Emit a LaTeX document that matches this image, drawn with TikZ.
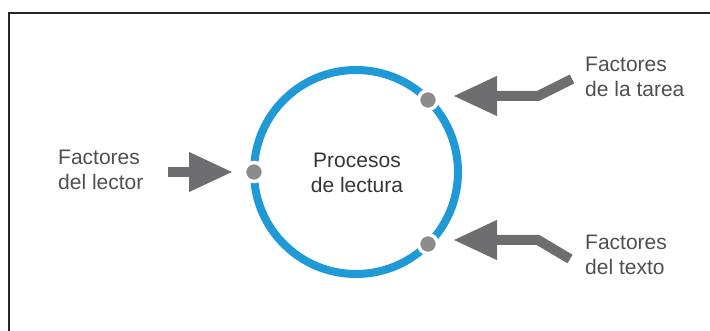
\documentclass[tikz,border=0pt]{standalone}
\usepackage{fontspec}
\setmainfont{Liberation Sans}
\usetikzlibrary{arrows.meta}
\definecolor{ringblue}{HTML}{1F9AD6}
\definecolor{arrowgray}{HTML}{6E6E70}
\definecolor{dotgray}{HTML}{8C8C8C}
\definecolor{labelgray}{HTML}{4F4F4F}
\definecolor{maingray}{HTML}{353535}
\tikzset{
  label text/.style={font=\fontsize{21}{25}\selectfont, text=labelgray, align=left, inner sep=0pt, anchor=north west},
  center text/.style={font=\fontsize{21}{25}\selectfont, text=maingray, align=center, inner sep=0pt, anchor=north},
  ring/.style={draw=ringblue, line width=8pt},
  portdot/.style={circle, fill=dotgray, draw=white, line width=3.5pt, minimum size=19pt, inner sep=0pt},
  bigarrow/.style={draw=arrowgray, line width=10pt, line join=miter,
    -{Triangle[length=44pt, width=37pt, fill=arrowgray]}},
  frameline/.style={draw=black!85, line width=2pt}
}
\begin{document}
\begin{tikzpicture}[x=1pt,y=-1pt]
\useasboundingbox (0,0) rectangle (710,331);
% frame (partially cut off on right and bottom)
\draw[frameline] (9,340) -- (9,13) -- (720,13);
% ring
\draw[ring] (356,172) circle[radius=102];
\node[portdot] (dl) at (254,172) {};
\node[portdot] (dt) at (428,100) {};
\node[portdot] (db) at (428,244) {};
% texts
\node[center text] (proc) at (357,153) {Procesos\\de lectura};
\node[label text] (lector) at (58,150) {Factores\\del lector};
\node[label text] (tarea) at (585,57) {Factores\\de la tarea};
\node[label text] (texto) at (585,235) {Factores\\del texto};
% arrow coordinates
\coordinate (la) at (168,172);
\coordinate (lt) at (233,172);
\coordinate (ta) at (572,79);
\coordinate (tb) at (538,96);
\coordinate (tt) at (453,96);
\coordinate (ba) at (570,259);
\coordinate (bb) at (538,240);
\coordinate (bt) at (453,240);
% arrows
\draw[bigarrow] (la) -- (lt);
\draw[bigarrow] (ta) -- (tb) -- (tt);
\draw[bigarrow] (ba) -- (bb) -- (bt);
\end{tikzpicture}
\end{document}
